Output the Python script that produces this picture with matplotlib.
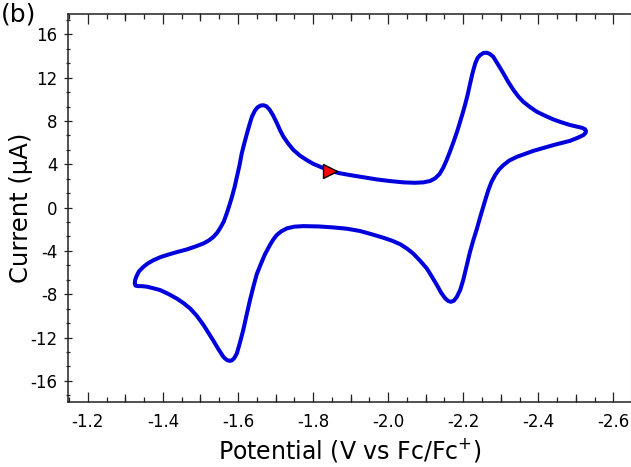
import numpy as np
import matplotlib
matplotlib.use('Agg')
import matplotlib.pyplot as plt
from matplotlib.ticker import MultipleLocator

plt.rcParams['font.family'] = ['DejaVu Sans']
plt.rcParams['axes.unicode_minus'] = False

# CV trace (V vs Fc/Fc+, uA), one closed loop starting at the arrow
potential = [
    -1.845, -1.870, -1.899, -1.935, -1.970, -2.005, -2.041, -2.070, -2.094, -2.112,
    -2.125, -2.137, -2.147, -2.156, -2.165, -2.175, -2.184, -2.192, -2.198, -2.205,
    -2.212, -2.218, -2.225, -2.232, -2.238, -2.245, -2.254, -2.263, -2.271, -2.280,
    -2.293, -2.307, -2.320, -2.334, -2.347, -2.360, -2.378, -2.396, -2.418, -2.440,
    -2.462, -2.485, -2.500, -2.516, -2.524, -2.527, -2.526, -2.520, -2.505, -2.485,
    -2.462, -2.440, -2.413, -2.387, -2.365, -2.343, -2.323, -2.307, -2.295, -2.285,
    -2.275, -2.267, -2.260, -2.254, -2.245, -2.236, -2.227, -2.218, -2.209, -2.200,
    -2.192, -2.183, -2.175, -2.167, -2.160, -2.152, -2.141, -2.130, -2.117, -2.103,
    -2.085, -2.067, -2.050, -2.032, -2.010, -1.987, -1.955, -1.925, -1.890, -1.854,
    -1.815, -1.774, -1.750, -1.730, -1.715, -1.703, -1.694, -1.686, -1.679, -1.672,
    -1.661, -1.650, -1.641, -1.632, -1.623, -1.614, -1.605, -1.597, -1.590, -1.584,
    -1.579, -1.572, -1.566, -1.561, -1.548, -1.535, -1.521, -1.508, -1.490, -1.473,
    -1.455, -1.437, -1.415, -1.393, -1.375, -1.357, -1.343, -1.333, -1.327, -1.325,
    -1.326, -1.329, -1.336, -1.348, -1.360, -1.375, -1.395, -1.419, -1.440, -1.464,
    -1.486, -1.508, -1.523, -1.535, -1.545, -1.552, -1.562, -1.570, -1.577, -1.584,
    -1.591, -1.597, -1.604, -1.610, -1.617, -1.624, -1.631, -1.637, -1.645, -1.652,
    -1.660, -1.668, -1.676, -1.684, -1.693, -1.703, -1.712, -1.721, -1.734, -1.748,
    -1.765, -1.783, -1.800, -1.819, -1.845]
current = [
    3.40, 3.18, 3.00, 2.80, 2.60, 2.45, 2.33, 2.29, 2.33, 2.46,
    2.70, 3.10, 3.70, 4.40, 5.20, 6.15, 7.05, 7.95, 8.65, 9.50,
    10.45, 11.40, 12.45, 13.31, 13.80, 14.08, 14.28, 14.30, 14.18, 13.93,
    13.20, 12.39, 11.60, 10.85, 10.25, 9.77, 9.28, 8.85, 8.48, 8.14,
    7.87, 7.62, 7.50, 7.37, 7.25, 7.09, 6.90, 6.69, 6.45, 6.17,
    5.97, 5.77, 5.50, 5.24, 4.97, 4.69, 4.35, 3.92, 3.50, 3.00,
    2.35, 1.62, 0.85, 0.15, -0.90, -2.00, -3.00, -4.10, -5.40, -6.69,
    -7.60, -8.24, -8.60, -8.70, -8.62, -8.38, -7.85, -7.16, -6.40, -5.62,
    -4.90, -4.25, -3.78, -3.38, -3.05, -2.78, -2.45, -2.16, -1.95, -1.83,
    -1.74, -1.71, -1.76, -1.92, -2.20, -2.54, -2.95, -3.40, -3.85, -4.30,
    -5.20, -6.15, -7.30, -8.54, -9.90, -11.31, -12.50, -13.46, -13.90, -14.10,
    -14.15, -14.10, -13.95, -13.77, -13.08, -12.32, -11.55, -10.83, -9.98, -9.33,
    -8.82, -8.40, -7.98, -7.62, -7.45, -7.30, -7.25, -7.25, -7.20, -7.00,
    -6.70, -6.39, -5.90, -5.47, -5.15, -4.85, -4.55, -4.29, -4.08, -3.86,
    -3.60, -3.31, -3.02, -2.69, -2.30, -1.92, -1.30, -0.54, 0.20, 1.00,
    1.90, 2.84, 3.90, 5.00, 5.95, 6.85, 7.70, 8.38, 8.95, 9.25,
    9.42, 9.45, 9.35, 9.05, 8.55, 7.85, 7.15, 6.55, 5.90, 5.31,
    4.80, 4.39, 4.05, 3.77, 3.40]

# scan direction arrow
arrow_v = -1.845
arrow_i = 3.40

W, H = 631, 467
fig = plt.figure(figsize=(W / 100, H / 100), dpi=100)
ax = fig.add_axes([68.3 / W, 65.3 / H, 562.2 / W, 388.2 / H])

ax.plot(potential, current, color='#0000dd', lw=2.9, solid_joinstyle='round',
        solid_capstyle='round', zorder=3)
ax.plot([arrow_v], [arrow_i], marker='>', ms=10, mfc='red', mec='black', mew=1.0,
        ls='none', zorder=4)

ax.set_xlim(-1.148, -2.6456)
ax.set_ylim(-17.92, 17.92)

ax.xaxis.set_major_locator(MultipleLocator(0.2))
ax.xaxis.set_minor_locator(MultipleLocator(0.05))
ax.yaxis.set_major_locator(MultipleLocator(4))
ax.yaxis.set_minor_locator(MultipleLocator(4 / 3))
ax.xaxis.set_major_formatter(plt.FuncFormatter(lambda v, p: f'{v:.1f}'))

spine_c = '#222222'
for s in ['left', 'bottom', 'top']:
    ax.spines[s].set_color(spine_c)
    ax.spines[s].set_linewidth(1.1)
ax.spines['right'].set_color('#cccccc')
ax.spines['right'].set_linewidth(1.0)

ax.tick_params(axis='x', which='both', direction='in', top=True, bottom=True,
               color=spine_c, width=0.9, labelsize=12, pad=8)
ax.tick_params(axis='x', which='major', length=7.2)
ax.tick_params(axis='x', which='minor', length=3.6)
ax.tick_params(axis='y', which='both', direction='inout', left=True, right=False,
               color=spine_c, width=0.9, labelsize=12, pad=5)
ax.tick_params(axis='y', which='major', length=5.5)
ax.tick_params(axis='y', which='minor', length=3.5)

# medium-length ticks every 0.1 V on bottom and top
for side in ['bottom', 'top']:
    sec = ax.secondary_xaxis(side)
    sec.set_xticks(np.arange(-1.3, -2.65, -0.2))
    sec.tick_params(direction='in', length=6, width=0.9, color=spine_c,
                    labelbottom=False, labeltop=False)
    for s in sec.spines.values():
        s.set_visible(False)

ax.set_xlabel('Potential (V vs Fc/Fc$^{+}$)', fontsize=17, labelpad=4)
ax.set_ylabel('Current (\u03bcA)', fontsize=17.5, labelpad=-2)

fig.text(0.002, 0.953, '(b)', fontsize=18, va='baseline', ha='left')

fig.savefig('out.png', dpi=100)
